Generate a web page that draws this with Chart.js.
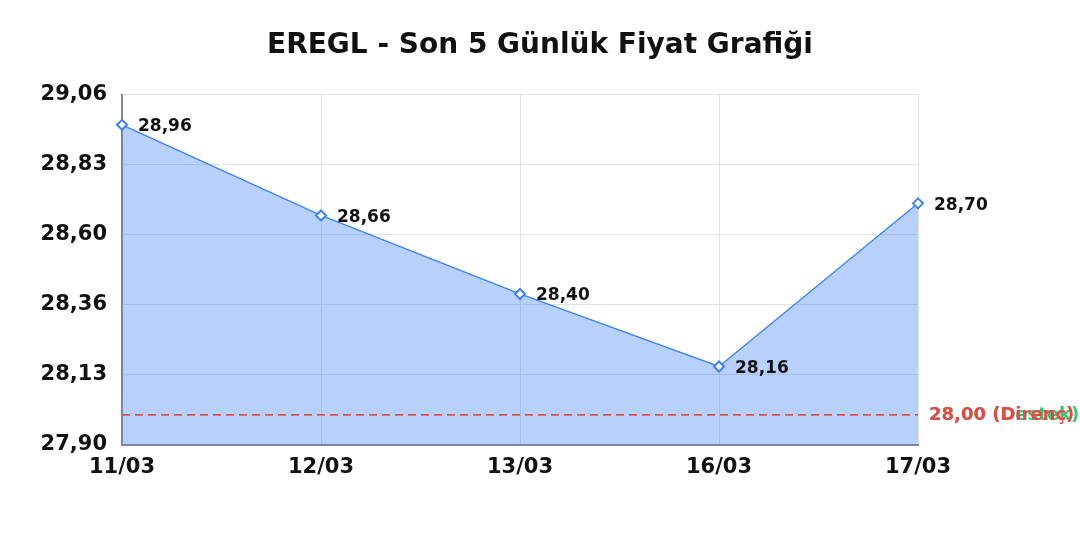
<!DOCTYPE html>
<html>
<head>
<meta charset="utf-8">
<script src="https://cdn.jsdelivr.net/npm/chart.js@4"></script>
<style>
  html, body { margin: 0; padding: 0; background: #fff; }
  #wrap { width: 1080px; height: 540px; }
</style>
</head>
<body>
<div id="wrap"><canvas id="priceChart"></canvas></div>
<script>
'use strict';

// ── Data ─────────────────────────────────────────────
const DAYS    = ['11/03', '12/03', '13/03', '16/03', '17/03'];
const PRICES  = [28.96, 28.66, 28.40, 28.16, 28.70];
const Y_TICKS = [27.90, 28.132, 28.364, 28.596, 28.828, 29.06];
const SUPPORT    = 28.00;
const RESISTANCE = 28.00;

const FONT = "'DejaVu Sans', sans-serif";
const fmt = v => v.toFixed(2).replace('.', ',');

// value labels next to each point
const pointLabels = {
    id: 'pointLabels',
    afterDatasetsDraw(chart) {
        const ctx = chart.ctx;
        const meta = chart.getDatasetMeta(0);
        ctx.save();
        ctx.font = 'bold 17px ' + FONT;
        ctx.fillStyle = '#111';
        ctx.textAlign = 'left';
        ctx.textBaseline = 'middle';
        meta.data.forEach((pt, i) => {
            ctx.fillText(fmt(PRICES[i]), pt.x + 16, pt.y + 2);
        });
        ctx.restore();
    }
};

// support / resistance lines
const levelLines = {
    id: 'levelLines',
    afterDatasetsDraw(chart) {
        const { ctx, chartArea, scales } = chart;
        const levels = [
            { v: SUPPORT,    color: '#2ecc71', text: fmt(SUPPORT) + ' (Destek)' },
            { v: RESISTANCE, color: '#ef4444', text: fmt(RESISTANCE) + ' (Direnç)' },
        ];
        ctx.save();
        levels.forEach(l => {
            const y = scales.y.getPixelForValue(l.v);
            ctx.strokeStyle = l.color;
            ctx.lineWidth = 1.5;
            ctx.setLineDash([8, 5]);
            ctx.beginPath();
            ctx.moveTo(chartArea.left, y);
            ctx.lineTo(chartArea.right, y);
            ctx.stroke();
            ctx.setLineDash([]);
            ctx.font = 'bold 18px ' + FONT;
            ctx.fillStyle = l.color;
            ctx.textAlign = 'left';
            ctx.textBaseline = 'middle';
            ctx.fillText(l.text, chartArea.right + 11, y + 1);
        });
        ctx.restore();
    }
};

new Chart(document.getElementById('priceChart').getContext('2d'), {
    type: 'line',
    data: {
        labels: DAYS,
        datasets: [{
            label: 'EREGL',
            data: PRICES,
            borderColor: '#3b82f6',
            backgroundColor: 'rgba(59,130,246,0.37)',
            borderWidth: 1.3,
            fill: 'start',
            tension: 0,
            pointStyle: 'rectRot',
            pointRadius: 5,
            pointBorderWidth: 2,
            pointBackgroundColor: '#fff',
            pointBorderColor: '#3b82f6',
        }]
    },
    options: {
        responsive: true, maintainAspectRatio: false, animation: false,
        plugins: {
            legend: { display: false },
            tooltip: { enabled: false },
            title: {
                display: true,
                text: 'EREGL - Son 5 Günlük Fiyat Grafiği',
                color: '#111',
                font: { family: FONT, size: 28, weight: 'bold' },
                padding: { top: 29, bottom: 32 }
            }
        },
        scales: {
            x: {
                offset: false,
                grid: { color: '#e3e3e3', drawTicks: false },
                border: { color: '#888', width: 2 },
                ticks: { color: '#111', padding: 10, font: { family: FONT, size: 21, weight: 'bold' } },
                afterFit: s => { s.height = 95; }
            },
            y: {
                min: Y_TICKS[0], max: Y_TICKS[Y_TICKS.length - 1],
                grid: { color: '#e3e3e3', drawTicks: false },
                border: { color: '#888', width: 2 },
                afterBuildTicks: s => { s.ticks = Y_TICKS.map(v => ({ value: v })); },
                ticks: {
                    color: '#111', padding: 15,
                    font: { family: FONT, size: 21, weight: 'bold' },
                    callback: v => fmt(v)
                },
                afterFit: s => { s.width = 122; }
            },
            // empty right-hand axis, keeps room for the level labels
            yRight: {
                position: 'right',
                grid: { display: false },
                border: { display: false },
                ticks: { display: false },
                afterFit: s => { s.width = 162; }
            }
        }
    },
    plugins: [pointLabels, levelLines]
});
</script>
</body>
</html>
